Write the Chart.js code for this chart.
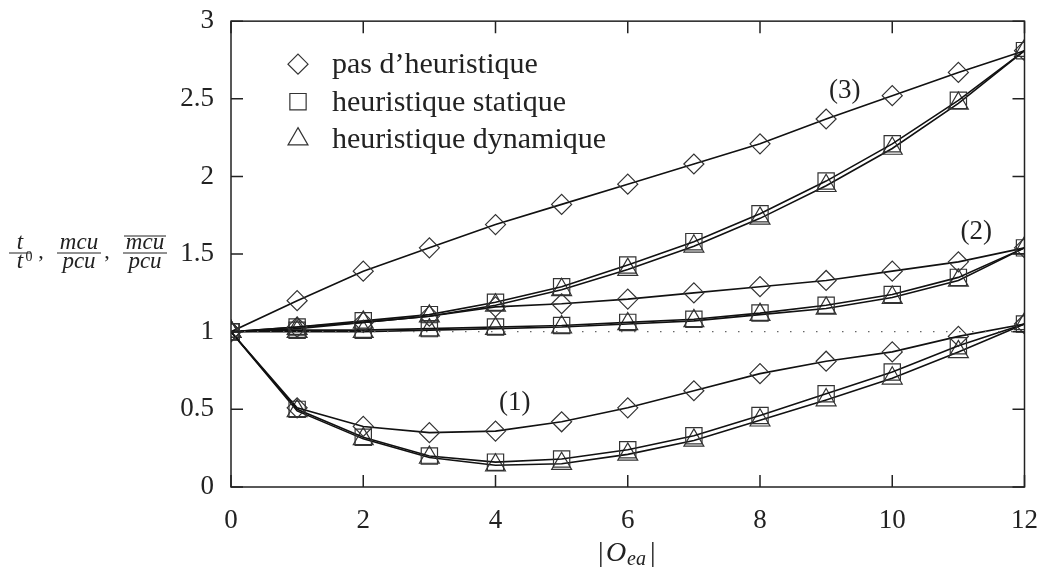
<!DOCTYPE html>
<html>
<head>
<meta charset="utf-8">
<title>Heuristiques</title>
<script src="https://cdn.jsdelivr.net/npm/chart.js@4.4.0/dist/chart.umd.min.js"></script>
<style>
  html, body { margin: 0; padding: 0; background: #fff; }
</style>
</head>
<body>
<canvas id="chart" width="1048" height="572"></canvas>
<script>
// x values |O_ea|
const xValues = [0, 1, 2, 3, 4, 5, 6, 7, 8, 9, 10, 11, 12];

// Group (1)
const g1None    = [1.00, 0.51, 0.39, 0.35, 0.36, 0.42, 0.51, 0.62, 0.73, 0.81, 0.87, 0.97, 1.05];
const g1Static  = [1.00, 0.50, 0.32, 0.20, 0.16, 0.18, 0.24, 0.33, 0.46, 0.60, 0.74, 0.91, 1.05];
const g1Dynamic = [1.00, 0.49, 0.31, 0.19, 0.14, 0.15, 0.21, 0.30, 0.43, 0.56, 0.70, 0.87, 1.05];

// Group (2)
const g2None    = [1.00, 1.03, 1.06, 1.10, 1.16, 1.18, 1.21, 1.25, 1.29, 1.33, 1.39, 1.45, 1.54];
const g2Static  = [1.00, 1.01, 1.01, 1.02, 1.03, 1.04, 1.06, 1.08, 1.12, 1.17, 1.24, 1.35, 1.54];
const g2Dynamic = [1.00, 1.00, 1.00, 1.01, 1.02, 1.03, 1.05, 1.07, 1.11, 1.15, 1.22, 1.33, 1.54];

// Group (3)
const g3None    = [1.00, 1.20, 1.39, 1.54, 1.69, 1.82, 1.95, 2.08, 2.21, 2.37, 2.52, 2.67, 2.81];
const g3Static  = [1.00, 1.03, 1.07, 1.11, 1.19, 1.29, 1.43, 1.58, 1.76, 1.97, 2.21, 2.49, 2.81];
const g3Dynamic = [1.00, 1.02, 1.06, 1.10, 1.17, 1.27, 1.40, 1.55, 1.73, 1.94, 2.18, 2.47, 2.81];

// reference line at 1
const refX = [0, 12];
const refY = [1, 1];

// axis ticks
const xTicks = [0, 2, 4, 6, 8, 10, 12];
const yTicks = [0, 0.5, 1, 1.5, 2, 2.5, 3];

// legend and curve labels
const legendLabels = ["pas d\u2019heuristique", "heuristique statique", "heuristique dynamique"];
const legendStyles = ['rectRot', 'rect', 'triangle'];
const curveLabels = ['(1)', '(2)', '(3)'];
const curveLabelX = [4.29, 11.27, 9.28];
const curveLabelY = [0.54, 1.64, 2.55];

const SERIF = '"Liberation Serif", "DejaVu Serif", serif';
const RADIUS = { rectRot: 10, rect: 11.5, triangle: 11.5 };

function toPoints(ys) {
    return ys.map((v, i) => ({ x: xValues[i], y: v }));
}

function series(ys, style) {
    return {
        data: toPoints(ys),
        borderColor: '#111',
        borderWidth: 1.6,
        pointStyle: style,
        pointRadius: RADIUS[style],
        pointBorderColor: '#333',
        pointBorderWidth: 1.2,
        pointBackgroundColor: 'rgba(0,0,0,0)',
        tension: 0,
        fill: false
    };
}

const datasets = [
    {
        data: refX.map((v, i) => ({ x: v, y: refY[i] })),
        borderColor: '#666',
        borderWidth: 1.3,
        borderDash: [1.5, 11.5],
        pointRadius: 0,
        fill: false
    },
    series(g1None, 'rectRot'), series(g1Static, 'rect'), series(g1Dynamic, 'triangle'),
    series(g2None, 'rectRot'), series(g2Static, 'rect'), series(g2Dynamic, 'triangle'),
    series(g3None, 'rectRot'), series(g3Static, 'rect'), series(g3Dynamic, 'triangle')
];

/**
 * Frame, inward ticks, legend, curve labels and axis titles
 */
const decorPlugin = {
    id: 'decor',
    afterDraw(chart) {
        const { ctx, chartArea: a, scales: { x, y } } = chart;
        ctx.save();
        ctx.strokeStyle = '#222';
        ctx.lineWidth = 1.5;
        ctx.strokeRect(a.left, a.top, a.right - a.left, a.bottom - a.top);

        const tl = 12;
        ctx.beginPath();
        xTicks.forEach(v => {
            const px = x.getPixelForValue(v);
            ctx.moveTo(px, a.bottom); ctx.lineTo(px, a.bottom - tl);
            ctx.moveTo(px, a.top); ctx.lineTo(px, a.top + tl);
        });
        yTicks.forEach(v => {
            const py = y.getPixelForValue(v);
            ctx.moveTo(a.left, py); ctx.lineTo(a.left + tl, py);
            ctx.moveTo(a.right, py); ctx.lineTo(a.right - tl, py);
        });
        ctx.stroke();

        // legend
        ctx.textBaseline = 'middle';
        ctx.textAlign = 'left';
        legendLabels.forEach((label, i) => {
            const cx = a.left + 67;
            const cy = a.top + 43 + i * 37.5;
            ctx.strokeStyle = '#333';
            ctx.fillStyle = 'rgba(0,0,0,0)';
            ctx.lineWidth = 1.2;
            Chart.helpers.drawPoint(ctx, {
                pointStyle: legendStyles[i],
                radius: RADIUS[legendStyles[i]],
                rotation: 0,
                borderWidth: 1.2
            }, cx, cy);
            ctx.fillStyle = '#222';
            ctx.font = '30px ' + SERIF;
            ctx.fillText(label, a.left + 101, cy + 1);
        });

        // curve group labels
        ctx.fillStyle = '#222';
        ctx.textAlign = 'center';
        ctx.font = '27px ' + SERIF;
        curveLabels.forEach((label, i) => {
            ctx.fillText(label, x.getPixelForValue(curveLabelX[i]), y.getPixelForValue(curveLabelY[i]));
        });

        // x axis title |O_ea|
        ctx.textBaseline = 'alphabetic';
        ctx.textAlign = 'left';
        const by = 561;
        ctx.font = '28px ' + SERIF;
        ctx.fillText('|', 598, by);
        ctx.font = 'italic 28px ' + SERIF;
        ctx.fillText('O', 606, by);
        ctx.font = 'italic 20px ' + SERIF;
        ctx.fillText('ea', 627, by + 4);
        ctx.font = '28px ' + SERIF;
        ctx.fillText('|', 650, by);

        // y axis title: t/t0, mcu/pcu, overline(mcu)/pcu
        const fy = 253;
        ctx.textAlign = 'center';
        ctx.lineWidth = 1;
        ctx.strokeStyle = '#222';
        const frac = (cx, num, den, halfW, over) => {
            ctx.font = 'italic 23px ' + SERIF;
            ctx.fillText(num, cx, fy - 4);
            ctx.fillText(den, cx, fy + 15);
            ctx.beginPath();
            ctx.moveTo(cx - halfW, fy); ctx.lineTo(cx + halfW, fy);
            if (over) { ctx.moveTo(cx - halfW + 1, fy - 17); ctx.lineTo(cx + halfW - 1, fy - 17); }
            ctx.stroke();
        };
        frac(20, 't', 't', 11, false);
        ctx.font = '14px ' + SERIF;
        ctx.fillText('0', 29, fy + 8);
        ctx.font = '22px ' + SERIF;
        ctx.fillText(',', 41, fy + 5);
        frac(79, 'mcu', 'pcu', 22, false);
        ctx.font = '22px ' + SERIF;
        ctx.fillText(',', 107, fy + 5);
        frac(145, 'mcu', 'pcu', 22, true);
        ctx.restore();
    }
};

new Chart(document.getElementById('chart').getContext('2d'), {
    type: 'line',
    data: { datasets },
    plugins: [decorPlugin],
    options: {
        responsive: false,
        animation: false,
        devicePixelRatio: 1,
        layout: { padding: { left: 171, right: 23, top: 8, bottom: 0 } },
        plugins: { legend: { display: false }, tooltip: { enabled: false } },
        scales: {
            x: {
                type: 'linear',
                min: 0,
                max: 12,
                grid: { display: false },
                border: { display: false },
                afterFit: s => { s.height = 85; },
                afterBuildTicks: s => { s.ticks = xTicks.map(v => ({ value: v })); },
                ticks: { color: '#222', padding: 10, font: { family: SERIF, size: 27 }, callback: v => String(v) }
            },
            y: {
                min: 0,
                max: 3,
                grid: { display: false },
                border: { display: false },
                afterFit: s => { s.width = 60; },
                afterBuildTicks: s => { s.ticks = yTicks.map(v => ({ value: v })); },
                ticks: { color: '#222', padding: 9, font: { family: SERIF, size: 27, lineHeight: 0.9 }, callback: v => String(v) }
            }
        }
    }
});
</script>
</body>
</html>
